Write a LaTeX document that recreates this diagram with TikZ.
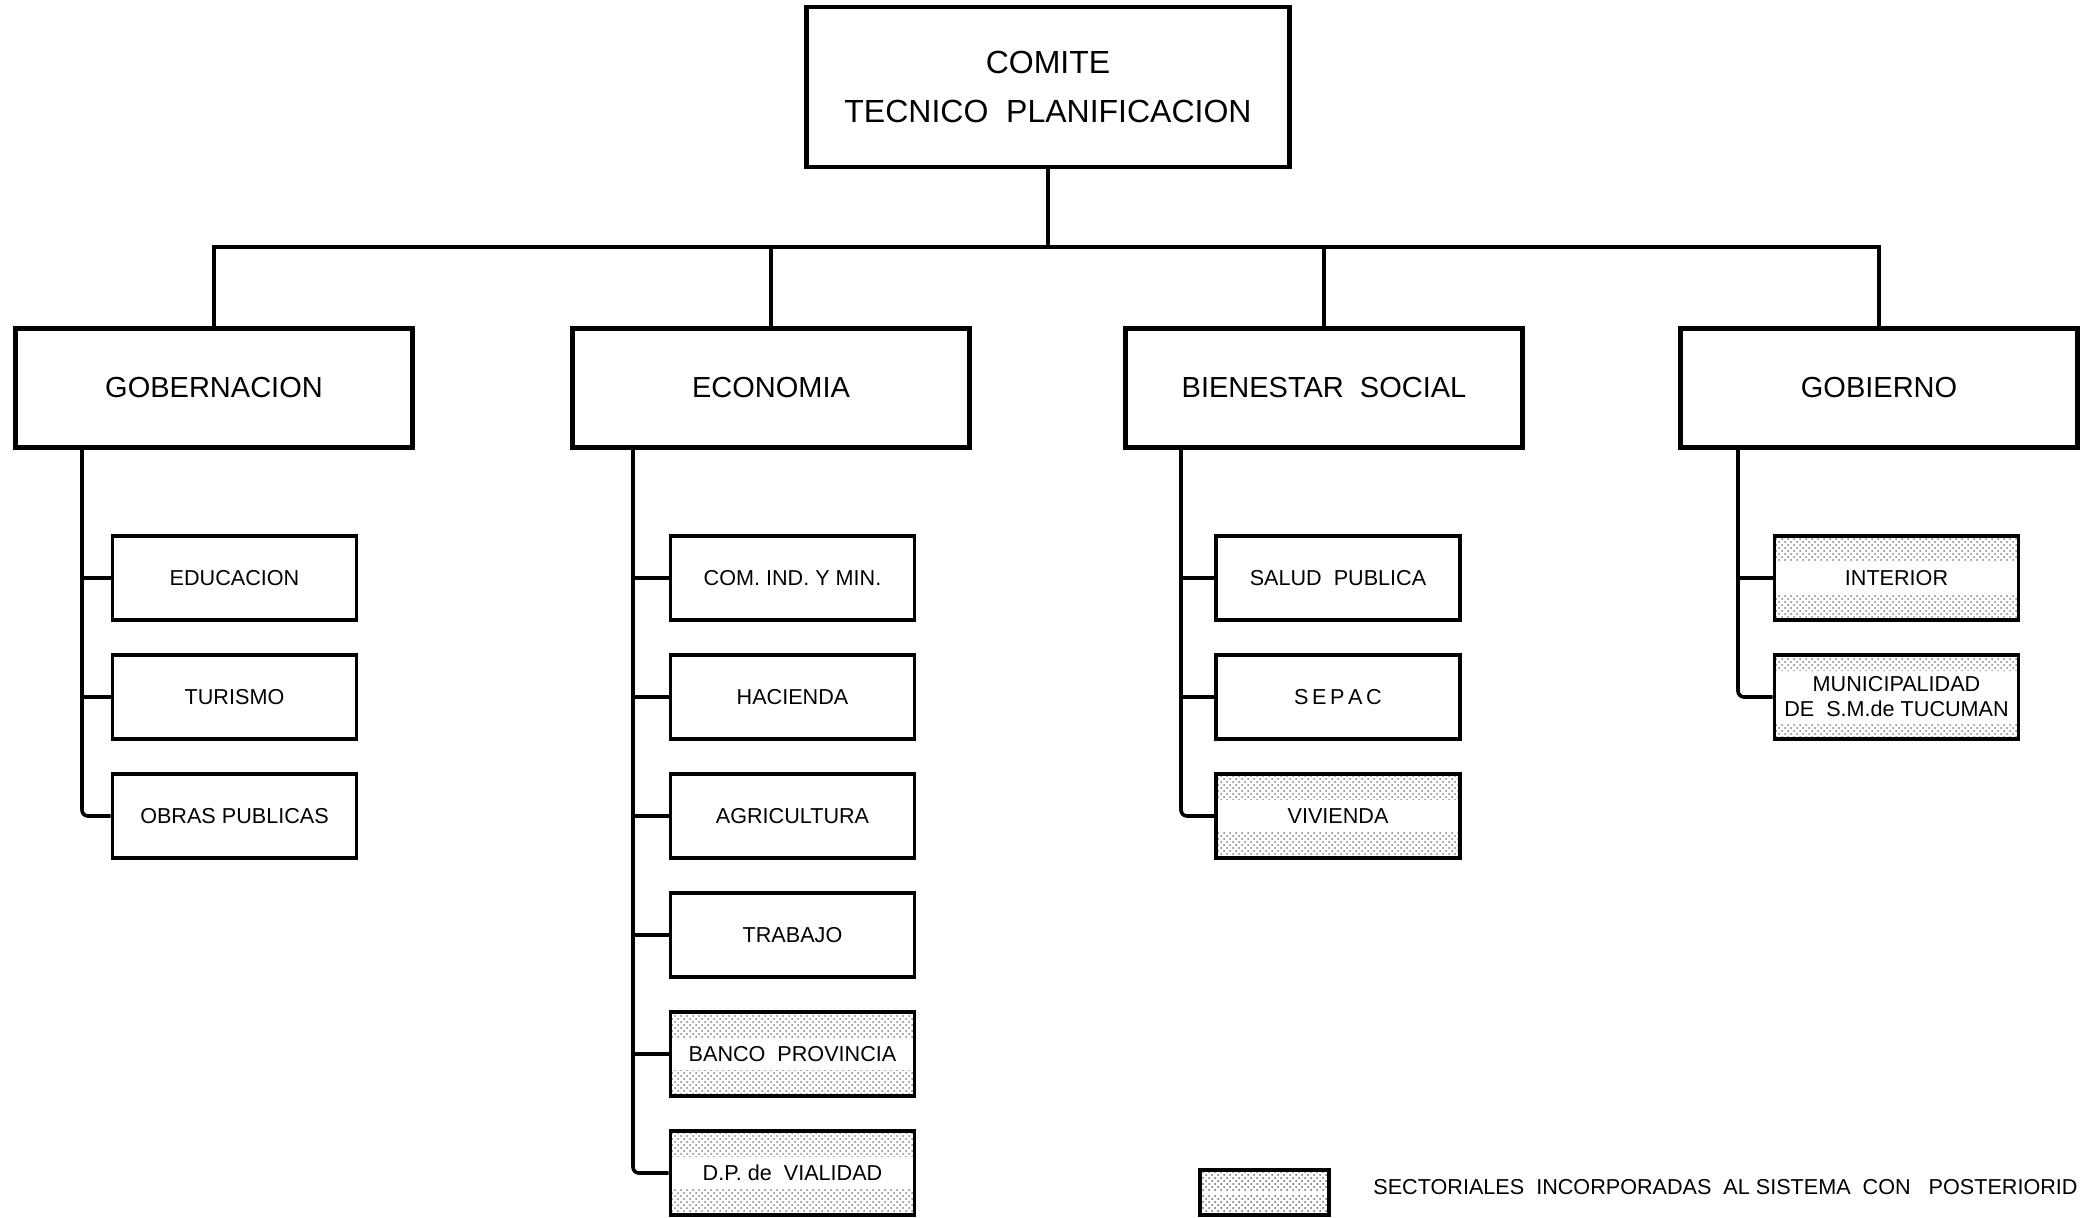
\documentclass[tikz,border=0pt]{standalone}
\usepackage{fontspec}
\setmainfont{Liberation Sans}
\usetikzlibrary{patterns,calc}
\begin{document}
\begin{tikzpicture}[x=0.5pt,y=-0.5pt,
  lvlone/.style={draw, line width=2.4pt, minimum width=241.5pt, minimum height=80pt, align=center, font=\fontsize{16}{24.5}\selectfont, inner sep=0pt},
  lvltwo/.style={draw, line width=2.4pt, minimum width=198.5pt, minimum height=59.5pt, font=\fontsize{14.5}{17}\selectfont, inner sep=0pt},
  subbox/.style={draw, line width=1.8pt, minimum width=122pt, minimum height=42pt, align=center, font=\fontsize{10.8}{12.5}\selectfont, inner sep=0pt},
  stip/.style={pattern=crosshatch dots, pattern color=black!50, path picture={\fill[white] ($(path picture bounding box.west)+(0,-8pt)$) rectangle ($(path picture bounding box.east)+(0,8pt)$);}},
  stiptwo/.style={pattern=crosshatch dots, pattern color=black!50, path picture={\fill[white] ($(path picture bounding box.west)+(0,-13pt)$) rectangle ($(path picture bounding box.east)+(0,13pt)$);}},
  legbox/.style={draw, line width=1.6pt, minimum width=64.5pt, minimum height=22.5pt, inner sep=0pt, pattern=crosshatch dots, pattern color=black!60, path picture={\fill[white] ($(path picture bounding box.west)+(0,-0.8pt)$) rectangle ($(path picture bounding box.east)+(0,0.8pt)$);}},
  link/.style={line width=1.8pt, rounded corners=3pt},
  legtext/.style={anchor=west, inner sep=0pt, font=\fontsize{10.8}{13}\selectfont}
]
\useasboundingbox (0,0) rectangle (2080,1217);

% level 1
\node[lvlone] (ctp) at (1048,87) {COMITE\\TECNICO\ \ PLANIFICACION};

% level 2
\node[lvltwo] (gob)  at (214,388)  {GOBERNACION};
\node[lvltwo] (eco)  at (771,388)  {ECONOMIA};
\node[lvltwo] (bien) at (1324,388) {BIENESTAR\ \ SOCIAL};
\node[lvltwo] (gobi) at (1879,388) {GOBIERNO};

\coordinate (bar) at (1051,247);
\draw[link] (ctp.south) -- (ctp.south |- bar);
\draw[link, rounded corners=0pt] (gob.north) -- (gob.north |- bar) -- (gobi.north |- bar) -- (gobi.north);
\draw[link] (eco.north |- bar) -- (eco.north);
\draw[link] (bien.north |- bar) -- (bien.north);

% GOBERNACION children
\node[subbox] (educ) at (234.5,578) {EDUCACION};
\node[subbox] (tur)  at (234.5,697) {TURISMO};
\node[subbox] (obr)  at (234.5,816) {OBRAS\ PUBLICAS};
\coordinate (gx) at (82,448);
\draw[link] (gx) |- (obr.west);
\draw[link] (gx |- educ.west) -- (educ.west);
\draw[link] (gx |- tur.west) -- (tur.west);

% ECONOMIA children
\node[subbox] (com) at (792.5,578)  {COM.\ IND.\ Y\ MIN.};
\node[subbox] (hac) at (792.5,697)  {HACIENDA};
\node[subbox] (agr) at (792.5,816)  {AGRICULTURA};
\node[subbox] (trab) at (792.5,935) {TRABAJO};
\node[subbox, stip] (banco) at (792.5,1054) {BANCO\ \ PROVINCIA};
\node[subbox, stip] (vial) at (792.5,1173) {D.P.\ de\ \ VIALIDAD};
\coordinate (ex) at (633,448);
\draw[link] (ex) |- (vial.west);
\draw[link] (ex |- com.west) -- (com.west);
\draw[link] (ex |- hac.west) -- (hac.west);
\draw[link] (ex |- agr.west) -- (agr.west);
\draw[link] (ex |- trab.west) -- (trab.west);
\draw[link] (ex |- banco.west) -- (banco.west);

% BIENESTAR SOCIAL children
\node[subbox] (sal) at (1338,578) {SALUD\ \ PUBLICA};
\node[subbox] (sep) at (1338,697) {S\,E\,P\,A\,C};
\node[subbox, stip] (viv) at (1338,816) {VIVIENDA};
\coordinate (bx) at (1181,448);
\draw[link] (bx) |- (viv.west);
\draw[link] (bx |- sal.west) -- (sal.west);
\draw[link] (bx |- sep.west) -- (sep.west);

% GOBIERNO children
\node[subbox, stip] (inter) at (1896.5,578) {INTERIOR};
\node[subbox, stiptwo] (muni) at (1896.5,697) {MUNICIPALIDAD\\DE\ \ S.M.de TUCUMAN};
\coordinate (gox) at (1738,448);
\draw[link] (gox) |- (muni.west);
\draw[link] (gox |- inter.west) -- (inter.west);

% legend
\node[legbox] (leg) at (1264.5,1192.5) {};
\node[legtext] (legt) at (1373,1187) {SECTORIALES\ \ INCORPORADAS\ \ AL\ SISTEMA\ \ CON\ \ \ POSTERIORID};
\end{tikzpicture}
\end{document}
